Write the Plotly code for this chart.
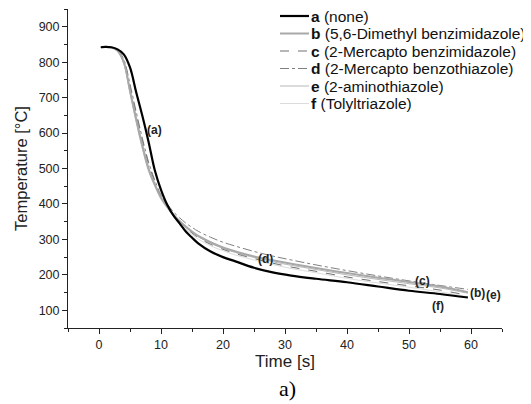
import plotly.graph_objects as go

time_s = [0.3, 1, 2, 3, 4, 5, 6, 7, 8, 9, 10, 11, 12, 13, 14, 15, 16, 18, 20, 22, 25, 28, 31, 35, 40, 45, 50, 55, 59.5]

temp_a = [842, 843, 842, 836, 822, 785, 715, 648, 575, 495, 440, 398, 368, 345, 322, 305, 289, 266, 250, 238, 220, 207, 198, 189, 179, 167, 155, 146, 136]
temp_b = [842, 843, 841, 832, 800, 720, 640, 565, 500, 455, 418, 392, 370, 352, 336, 322, 310, 292, 277, 266, 252, 241, 231, 219, 205, 192, 180, 167, 151]
temp_c = [842, 843, 841, 833, 805, 730, 652, 578, 512, 462, 420, 393, 369, 350, 333, 318, 305, 286, 272, 260, 246, 233, 222, 210, 194, 181, 169, 157, 142]
temp_d = [842, 843, 841, 834, 808, 738, 660, 585, 518, 467, 425, 400, 378, 361, 346, 334, 323, 306, 292, 281, 266, 253, 242, 228, 212, 197, 183, 170, 159]
temp_e = [842, 843, 841, 830, 795, 712, 630, 555, 492, 450, 415, 390, 368, 350, 334, 320, 308, 289, 275, 263, 249, 237, 227, 215, 200, 187, 175, 163, 148]
temp_f = [842, 843, 841, 831, 798, 716, 636, 560, 497, 452, 412, 388, 365, 346, 329, 314, 301, 282, 268, 256, 242, 229, 218, 206, 190, 177, 165, 152, 138]

series_keys = ["a", "b", "c", "d", "e", "f"]
series_desc = ["(none)", "(5,6-Dimethyl benzimidazole)", "(2-Mercapto benzimidazole)",
               "(2-Mercapto benzothiazole)", "(2-aminothiazole)", "(Tolyltriazole)"]
series_values = [temp_a, temp_b, temp_c, temp_d, temp_e, temp_f]
styles = [
    dict(color="#000000", width=2.2, dash="solid"),
    dict(color="#a8a8a8", width=2.0, dash="solid"),
    dict(color="#707070", width=1.0, dash="dash"),
    dict(color="#808080", width=1.0, dash="dashdot"),
    dict(color="#b8b8b8", width=1.0, dash="solid"),
    dict(color="#dcdcdc", width=1.0, dash="solid"),
]

curve_labels = ["(a)", "(d)", "(c)", "(f)", "(b)", "(e)"]
label_x = [9.0, 26.8, 52.2, 54.6, 61.0, 63.6]
label_y = [610, 245, 182, 111, 148, 144]

FONT = "Arial, Liberation Sans, sans-serif"

# page body has an 8px offset, so the figure is sized/positioned to compensate
OFF = 8
W, H = 531 - OFF, 404 - OFF
ML, MR, MT, MB = 68 - OFF, 29, 9 - OFF, 76
PW, PH = W - ML - MR, H - MT - MB

def px_to_paper_x(p):
    return (p - OFF - ML) / PW

def px_to_paper_y(p):
    return (H - MB - (p - OFF)) / PH

fig = go.Figure()
order = [5, 4, 3, 2, 1, 0]
for i in order:
    st = styles[i]
    fig.add_trace(go.Scatter(x=time_s, y=series_values[i], mode="lines",
                             name="%s %s" % (series_keys[i], series_desc[i]), showlegend=False,
                             line=dict(color=st["color"], width=st["width"], dash=st["dash"], shape="spline")))

for t, x, y in zip(curve_labels, label_x, label_y):
    fig.add_annotation(x=x, y=y, text="<b>%s</b>" % t, showarrow=False,
                       font=dict(family=FONT, size=12, color="#222"))

# legend drawn as lines + text
leg_rows = [16, 33.5, 51, 68.5, 86, 103.5]
for i, ry in enumerate(leg_rows):
    st = styles[i]
    fig.add_shape(type="line", xref="paper", yref="paper",
                  x0=px_to_paper_x(280), x1=px_to_paper_x(309),
                  y0=px_to_paper_y(ry), y1=px_to_paper_y(ry),
                  line=dict(color=st["color"], width=st["width"], dash=st["dash"]))
    fig.add_annotation(xref="paper", yref="paper", x=px_to_paper_x(310), y=px_to_paper_y(ry),
                       xanchor="left", yanchor="middle", showarrow=False, borderpad=0,
                       text="<b>%s</b> %s" % (series_keys[i], series_desc[i]),
                       font=dict(family=FONT, size=15.5, color="#111"))

fig.add_annotation(xref="paper", yref="paper", x=px_to_paper_x(287), y=px_to_paper_y(388),
                   yanchor="middle", text="a)", showarrow=False,
                   font=dict(family="Times New Roman, Liberation Serif, serif", size=22, color="#000"))

axis_common = dict(showline=True, linecolor="#222", linewidth=1, ticks="outside", ticklen=5, tickcolor="#222",
                   showgrid=False, zeroline=False, automargin=False,
                   tickfont=dict(family=FONT, size=12.5, color="#222"), mirror=False)

fig.update_layout(
    width=W, height=H,
    margin=dict(l=ML, r=MR, t=MT, b=MB),
    paper_bgcolor="white", plot_bgcolor="white",
    font=dict(family=FONT, color="#222"),
    xaxis=dict(range=[-5, 65], dtick=10, tick0=0,
               minor=dict(dtick=5, ticks="outside", ticklen=3, tickcolor="#222"),
               title=dict(text="Time [s]", font=dict(size=17), standoff=2), **axis_common),
    yaxis=dict(range=[50, 950], dtick=100, tick0=0,
               minor=dict(dtick=50, ticks="outside", ticklen=3, tickcolor="#222"),
               title=dict(text="Temperature [°C]", font=dict(size=16.5), standoff=6), **axis_common),
    showlegend=False,
)

fig.write_html("out.html")
